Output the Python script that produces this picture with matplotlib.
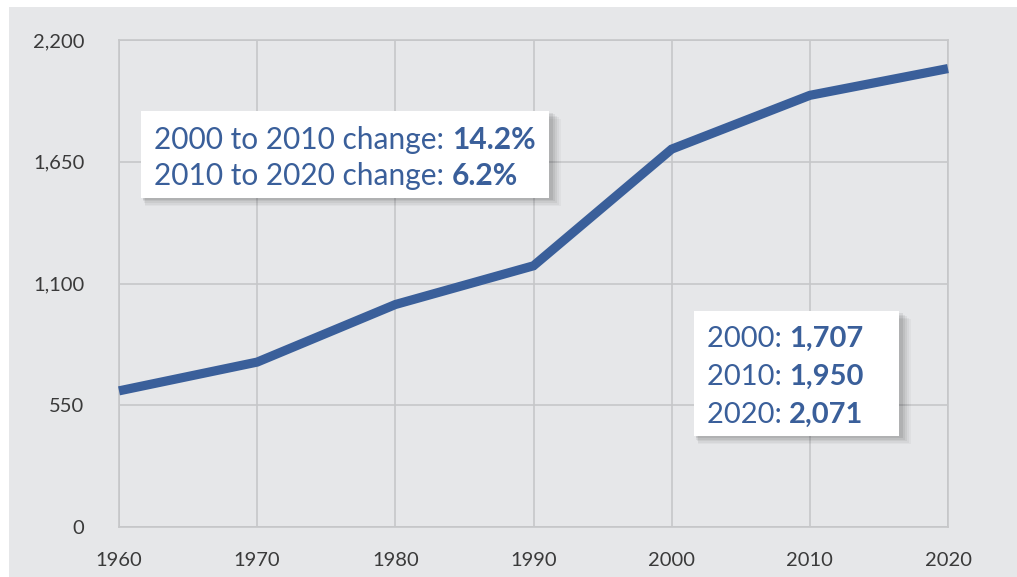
import matplotlib.pyplot as plt
from matplotlib.patches import Rectangle
from matplotlib.text import Annotation

# datos
anys = [1960, 1970, 1980, 1990, 2000, 2010, 2020]
valors = [615, 745, 1005, 1180, 1707, 1950, 2071]
yticks = [0, 550, 1100, 1650, 2200]

linia_color = '#3a5f9a'
fons = '#e6e7e9'
grid_color = '#c6c7c9'
text_color = '#3a3a3a'

W, H = 1017, 577
fig = plt.figure(figsize=(W / 100, H / 100), dpi=100)
fig.patch.set_facecolor('white')

def fx(px):
    return px / W

def fy(py):
    return 1 - py / H

# panel gris de fondo
fig.patches.append(Rectangle((fx(9), 0), 1 - fx(9), fy(7), transform=fig.transFigure,
                             facecolor=fons, edgecolor='none', zorder=-1))

ax = fig.add_axes([fx(119), fy(527), fx(948) - fx(119), fy(40) - fy(527)])
ax.set_zorder(1)
ax.set_facecolor('none')
ax.plot(anys, valors, color=linia_color, linewidth=6.6, solid_capstyle='butt',
        solid_joinstyle='miter', zorder=3, clip_on=False)
ax.set_xlim(1960, 2020)
ax.set_ylim(0, 2200)
ax.set_xticks(anys)
ax.set_yticks(yticks)
ax.set_yticklabels([f"{v:,}" for v in yticks])
ax.grid(True, color=grid_color, linewidth=1.2)
for s in ax.spines.values():
    s.set_color(grid_color)
    s.set_linewidth(1.2)
ax.tick_params(length=0, colors=text_color, labelsize=14.5)
ax.tick_params(axis='y', pad=25)
ax.tick_params(axis='x', pad=18)
for lab in ax.get_xticklabels() + ax.get_yticklabels():
    lab.set_family('Lato')


def caixa(x0, y0, x1, y1):
    # ombra difuminada
    for i, a in enumerate([0.03, 0.04, 0.05, 0.06, 0.07]):
        d = 8 - i * 1.5
        fig.patches.append(Rectangle((fx(x0 + 1 + d * 0.4), fy(y1 + d)), fx(x1 - x0 + d), fy(y0) - fy(y1),
                                     transform=fig.transFigure, facecolor='black', alpha=a,
                                     edgecolor='none', zorder=2))
    fig.patches.append(Rectangle((fx(x0), fy(y1)), fx(x1 - x0), fy(y0) - fy(y1),
                                 transform=fig.transFigure, facecolor='white',
                                 edgecolor='none', zorder=3))


def linia(x, y, normal, negreta, mida=21.5):
    t = fig.text(fx(x), fy(y), normal, color=linia_color, fontsize=mida, family='Lato',
                 va='baseline', ha='left', zorder=5)
    b = Annotation(negreta, xy=(1, 0), xycoords=t, xytext=(0, 0), textcoords='offset points',
                   color=linia_color, fontsize=mida, family='Lato', fontweight='bold',
                   va='bottom', ha='left', annotation_clip=False, zorder=5)
    fig.add_artist(b)
    return t


caixa(141, 111, 549, 198)
linia(154, 149, '2000 to 2010 change: ', '14.2%')
linia(154, 185, '2010 to 2020 change: ', '6.2%')

caixa(694, 311, 899, 436)
linia(707, 347, '2000: ', '1,707', 21)
linia(707, 385, '2010: ', '1,950', 21)
linia(707, 423, '2020: ', '2,071', 21)

fig.savefig('out.png', dpi=100)
